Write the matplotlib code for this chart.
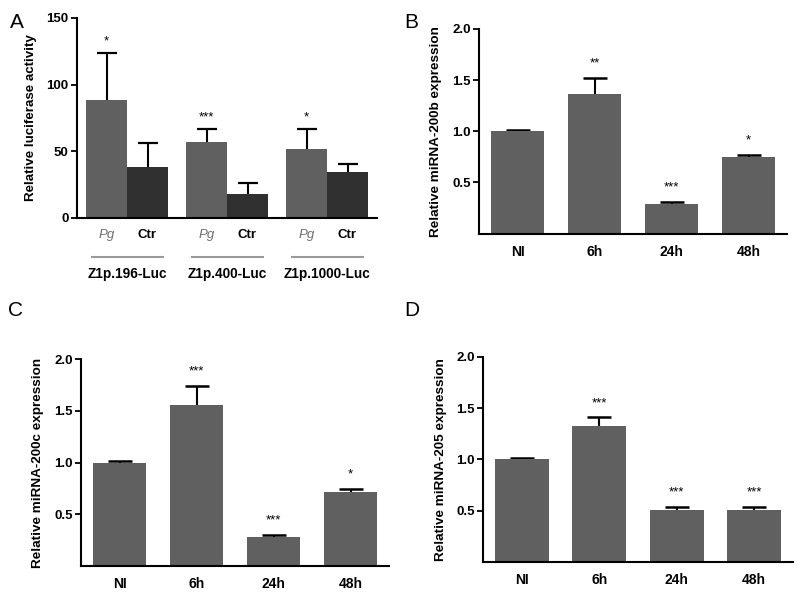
import matplotlib
matplotlib.use("Agg")
import matplotlib.pyplot as plt
import matplotlib.transforms as mtransforms
import numpy as np

plt.rcParams['font.family'] = ['Liberation Sans', 'DejaVu Sans']

# ---- Panel A data ----
groups_A = ["Z1p.196-Luc", "Z1p.400-Luc", "Z1p.1000-Luc"]
pg_vals = [88.5, 57.2, 51.8]
pg_err = [35.0, 9.8, 15.0]
ctr_vals = [38.3, 17.8, 34.3]
ctr_err = [17.7, 8.2, 6.0]
pg_stars = ["*", "***", "*"]

# ---- Panels B-D data ----
times = ["NI", "6h", "24h", "48h"]
b_vals = [1.0, 1.366, 0.285, 0.75]
b_err = [0.01, 0.155, 0.025, 0.02]
b_stars = ["", "**", "***", "*"]

c_vals = [1.0, 1.554, 0.28, 0.711]
c_err = [0.01, 0.183, 0.022, 0.035]
c_stars = ["", "***", "***", "*"]

d_vals = [1.0, 1.326, 0.51, 0.51]
d_err = [0.01, 0.082, 0.029, 0.025]
d_stars = ["", "***", "***", "***"]

GRAY = "#606060"
DARK = "#303030"

fig = plt.figure(figsize=(8, 5.93), dpi=100)

def style_axes(ax):
    for s in ["top", "right"]:
        ax.spines[s].set_visible(False)
    for s in ["left", "bottom"]:
        ax.spines[s].set_linewidth(1.5)
    ax.tick_params(axis="y", direction="out", length=4, width=1.3, labelsize=9.5, pad=2)
    ax.tick_params(axis="x", length=0, pad=8)
    for lab in ax.get_yticklabels():
        lab.set_fontweight("bold")

# ---- Panel A ----
axA = fig.add_axes([0.09625, 0.6324, 0.375, 0.3373])
x = np.arange(len(groups_A))
w = 0.41
xp = x - w / 2
xc = x + w / 2
axA.bar(xp, pg_vals, width=w, color=GRAY, zorder=2)
axA.bar(xc, ctr_vals, width=w, color=DARK, zorder=2)
# symmetric error bars drawn behind the bars: only the upper half shows
axA.errorbar(xp, pg_vals, yerr=pg_err, fmt="none", ecolor="black",
             elinewidth=1.5, capsize=7, capthick=1.6, zorder=1)
axA.errorbar(xc, ctr_vals, yerr=ctr_err, fmt="none", ecolor="black",
             elinewidth=1.5, capsize=7, capthick=1.6, zorder=1)
for xi, v, e, s in zip(xp, pg_vals, pg_err, pg_stars):
    axA.annotate(s, (xi, v + e), xytext=(0, 4), textcoords="offset points",
                 ha="center", va="bottom", fontsize=9.5)
axA.set_xlim(-0.5, 2.5)
axA.set_ylim(0, 150)
axA.set_yticks([0, 50, 100, 150])
ticks = []
labels = []
for i in range(3):
    ticks += [xp[i], xc[i]]
    labels += ["Pg", "Ctr"]
axA.set_xticks(ticks)
axA.set_xticklabels(labels)
style_axes(axA)
for i, lab in enumerate(axA.get_xticklabels()):
    lab.set_fontsize(9.5)
    if i % 2 == 0:
        lab.set_fontstyle("italic")
        lab.set_color("#707070")
    else:
        lab.set_fontweight("bold")
axA.set_ylabel("Relative luciferase activity", fontsize=9.6, fontweight="bold", labelpad=7)
trans = mtransforms.blended_transform_factory(axA.transData, axA.transAxes)
for i, g in enumerate(groups_A):
    axA.plot([x[i] - 0.35, x[i] + 0.36], [-0.195, -0.195], transform=trans,
             color="#9a9a9a", lw=1.5, clip_on=False)
    axA.text(x[i], -0.245, g, transform=trans, ha="center", va="top",
             fontsize=9.8, fontweight="bold")
fig.text(0.013, 0.978, "A", fontsize=15, va="top", ha="left")

# ---- Panels B, C, D ----
def expr_panel(rect, vals, errs, stars, ylabel, letter, lpos):
    ax = fig.add_axes(rect)
    xx = np.arange(len(times))
    ax.bar(xx, vals, width=0.7, color=GRAY, zorder=2)
    ax.errorbar(xx, vals, yerr=errs, fmt="none", ecolor="black",
                elinewidth=1.5, capsize=8.5, capthick=1.8, zorder=1)
    for xi, v, e, s in zip(xx, vals, errs, stars):
        if s:
            ax.annotate(s, (xi, v + e), xytext=(0, 6), textcoords="offset points",
                        ha="center", va="bottom", fontsize=9.5)
    ax.set_xlim(-0.5, 3.5)
    ax.set_ylim(0, 2.0)
    ax.set_yticks([0.5, 1.0, 1.5, 2.0])
    ax.set_yticklabels(["0.5", "1.0", "1.5", "2.0"])
    ax.set_xticks(xx)
    ax.set_xticklabels(times)
    style_axes(ax)
    for lab in ax.get_xticklabels():
        lab.set_fontweight("bold")
        lab.set_fontsize(10)
    ax.set_ylabel(ylabel, fontsize=9.7, fontweight="bold", labelpad=7)
    fig.text(lpos[0], lpos[1], letter, fontsize=15, va="top", ha="left")
    return ax

expr_panel([0.59875, 0.6062, 0.385, 0.3449], b_vals, b_err, b_stars,
           "Relative miRNA-200b expression", "B", (0.505, 0.978))
expr_panel([0.10125, 0.0455, 0.385, 0.3491], c_vals, c_err, c_stars,
           "Relative miRNA-200c expression", "C", (0.01, 0.493))
expr_panel([0.604, 0.0523, 0.387, 0.3462], d_vals, d_err, d_stars,
           "Relative miRNA-205 expression", "D", (0.505, 0.493))

fig.savefig("out.png", dpi=100)
